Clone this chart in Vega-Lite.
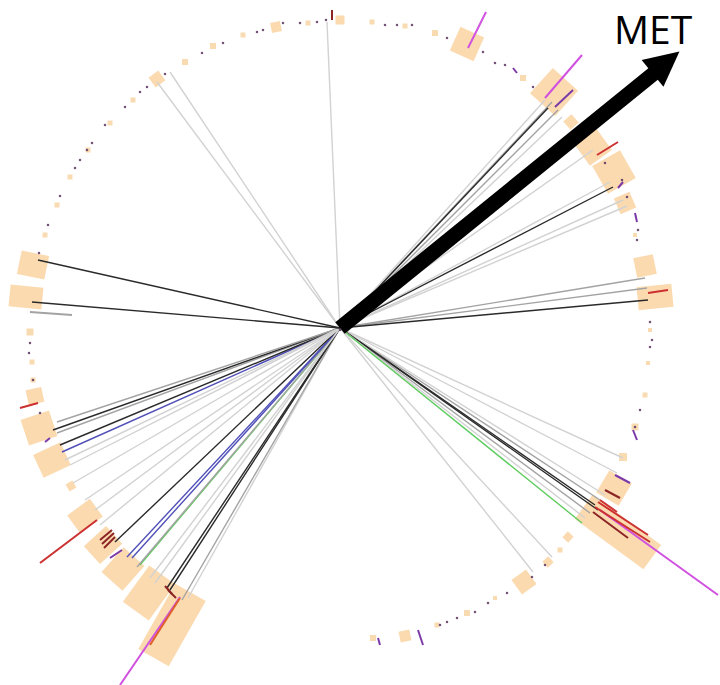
{
  "$schema": "https://vega.github.io/schema/vega-lite/v6.json",
  "width": 720,
  "height": 685,
  "autosize": "none",
  "padding": 0,
  "background": "white",
  "config": {"view": {"stroke": null}},
  "datasets": {
    "boxes": [
      {"x": 121.7, "y": 272.1, "x2": 132.3, "y2": 295.9, "w": 26},
      {"x": 202.6, "y": 223.4, "x2": 225.4, "y2": 248.6, "w": 34},
      {"x": 226.9, "y": 202.3, "x2": 235.1, "y2": 209.7, "w": 11},
      {"x": 242.0, "y": 173.1, "x2": 264.0, "y2": 188.9, "w": 27},
      {"x": 260.1, "y": 148.1, "x2": 287.9, "y2": 163.9, "w": 32},
      {"x": 277.2, "y": 121.6, "x2": 292.8, "y2": 128.4, "w": 17},
      {"x": 295.2, "y": 60.0, "x2": 314.8, "y2": 64.0, "w": 20},
      {"x": 297.6, "y": 29.3, "x2": 332.4, "y2": 32.7, "w": 23},
      {"x": 262.8, "y": -153.4, "x2": 285.2, "y2": -166.6, "w": 26},
      {"x": 243.7, "y": -178.8, "x2": 312.3, "y2": -229.2, "w": 30},
      {"x": 225.1, "y": -206.3, "x2": 230.9, "y2": -211.7, "w": 8},
      {"x": 205.3, "y": -231.0, "x2": 210.7, "y2": -237.0, "w": 8},
      {"x": 178.7, "y": -246.7, "x2": 189.3, "y2": -261.3, "w": 18},
      {"x": 63.9, "y": -302.6, "x2": 66.1, "y2": -313.4, "w": 11},
      {"x": -149.5, "y": -264.4, "x2": -186.5, "y2": -329.6, "w": 35},
      {"x": -177.8, "y": -246.8, "x2": -204.2, "y2": -283.2, "w": 32},
      {"x": -206.0, "y": -228.7, "x2": -228.0, "y2": -253.3, "w": 28},
      {"x": -225.9, "y": -206.9, "x2": -248.1, "y2": -227.1, "w": 24},
      {"x": -243.7, "y": -179.7, "x2": -266.3, "y2": -196.3, "w": 22},
      {"x": -265.6, "y": -156.0, "x2": -272.4, "y2": -160.0, "w": 8},
      {"x": -274.4, "y": -125.7, "x2": -301.6, "y2": -138.3, "w": 25},
      {"x": -286.8, "y": -95.3, "x2": -315.2, "y2": -104.7, "w": 27},
      {"x": -297.2, "y": -66.3, "x2": -312.8, "y2": -69.7, "w": 15},
      {"x": -297.6, "y": 29.4, "x2": -330.4, "y2": 32.6, "w": 22},
      {"x": -293.3, "y": 60.2, "x2": -320.7, "y2": 65.8, "w": 24},
      {"x": -179.4, "y": 244.2, "x2": -186.6, "y2": 253.8, "w": 12},
      {"x": -63.0, "y": 296.1, "x2": -65.0, "y2": 305.9, "w": 10},
      {"x": 0.0, "y": 303.5, "x2": 0.0, "y2": 312.5, "w": 9}
    ],
    "odots": [
      {"x": -127, "y": 282, "s": 6}, {"x": -155, "y": 266, "s": 6}, {"x": -97, "y": 293, "s": 5},
      {"x": -32, "y": 305, "s": 5}, {"x": 32, "y": 306, "s": 5}, {"x": 65, "y": 302, "s": 5},
      {"x": 95, "y": 295, "s": 6}, {"x": 183, "y": 250, "s": 6}, {"x": -207, "y": 228, "s": 5},
      {"x": -230, "y": 205, "s": 5}, {"x": -252, "y": 178, "s": 5}, {"x": -270, "y": 151, "s": 5},
      {"x": -283, "y": 123, "s": 5}, {"x": -295, "y": 93, "s": 5}, {"x": 310, "y": -2, "s": 4},
      {"x": 308, "y": -35, "s": 4}, {"x": 305, "y": -67, "s": 5}, {"x": 295, "y": -99, "s": 7},
      {"x": 283, "y": -129, "s": 8}, {"x": 295, "y": 93, "s": 4}, {"x": -310, "y": -4, "s": 7},
      {"x": -308, "y": -34, "s": 5}, {"x": 33, "y": -310, "s": 6}, {"x": 97, "y": -297, "s": 5},
      {"x": 127, "y": -285, "s": 6}, {"x": 155, "y": -270, "s": 4}, {"x": 220, "y": -222, "s": 5},
      {"x": -307, "y": -52, "s": 5}
    ],
    "spokes": [
      {"sx": 0, "sy": 0, "x": -13, "y": 306, "c": "light"}, {"sx": 0, "sy": 0, "x": -183, "y": 246, "c": "light"}, {"sx": 0, "sy": 0, "x": -170, "y": 256, "c": "light"},
      {"sx": 0, "sy": 0, "x": 212, "y": 226, "c": "gray"}, {"sx": 0, "sy": 0, "x": 208, "y": 220, "c": "black"}, {"sx": 0, "sy": 0, "x": 218, "y": 218, "c": "gray"},
      {"sx": 0, "sy": 0, "x": 222, "y": 211, "c": "light"}, {"sx": 0, "sy": 0, "x": 205, "y": 228, "c": "light"}, {"sx": 0, "sy": 0, "x": 253, "y": 178, "c": "light"},
      {"sx": 0, "sy": 0, "x": 270, "y": 146, "c": "light"}, {"sx": 0, "sy": 0, "x": 273, "y": 141, "c": "black"}, {"sx": 0, "sy": 0, "x": 283, "y": 128, "c": "light"},
      {"sx": 0, "sy": 0, "x": 287, "y": 122, "c": "light"},
      {"sx": 0, "sy": 0, "x": 305, "y": 50, "c": "gray"}, {"sx": 0, "sy": 0, "x": 307, "y": 40, "c": "gray"}, {"sx": 0, "sy": 0, "x": 308, "y": 28, "c": "black"},
      {"sx": 0, "sy": 0, "x": 283, "y": -130, "c": "light"}, {"sx": 0, "sy": 0, "x": 277, "y": -145, "c": "light"}, {"sx": 0, "sy": 0, "x": 260, "y": -172, "c": "gray"},
      {"sx": 0, "sy": 0, "x": 265, "y": -167, "c": "light"}, {"sx": 0, "sy": 0, "x": 255, "y": -177, "c": "black"}, {"sx": 0, "sy": 0, "x": 250, "y": -185, "c": "gray"},
      {"sx": 0, "sy": 0, "x": 258, "y": -182, "c": "black"}, {"sx": 0, "sy": 0, "x": 245, "y": -190, "c": "light"}, {"sx": 0, "sy": 0, "x": 242, "y": -195, "c": "green"},
      {"sx": 0, "sy": 0, "x": 212, "y": -229, "c": "light"}, {"sx": 0, "sy": 0, "x": 193, "y": -244, "c": "light"},
      {"sx": 0, "sy": 0, "x": -152, "y": -270, "c": "light"}, {"sx": 0, "sy": 0, "x": -158, "y": -272, "c": "gray"}, {"sx": 0, "sy": 0, "x": -170, "y": -262, "c": "black"},
      {"sx": 0, "sy": 0, "x": -173, "y": -260, "c": "black"}, {"sx": 0, "sy": 0, "x": -190, "y": -250, "c": "light"}, {"sx": 0, "sy": 0, "x": -200, "y": -237, "c": "green"},
      {"sx": 0, "sy": 0, "x": -203, "y": -239, "c": "gray"}, {"sx": 0, "sy": 0, "x": -208, "y": -230, "c": "blue"}, {"sx": 0, "sy": 0, "x": -213, "y": -229, "c": "blue"},
      {"sx": 0, "sy": 0, "x": -225, "y": -214, "c": "black"}, {"sx": 0, "sy": 0, "x": -240, "y": -197, "c": "light"}, {"sx": 0, "sy": 0, "x": -267, "y": -155, "c": "light"},
      {"sx": 0, "sy": 0, "x": -270, "y": -137, "c": "light"}, {"sx": 0, "sy": 0, "x": -278, "y": -124, "c": "blue"}, {"sx": 0, "sy": 0, "x": -280, "y": -117, "c": "black"},
      {"sx": 0, "sy": 0, "x": -283, "y": -105, "c": "gray"}, {"sx": 0, "sy": 0, "x": -287, "y": -102, "c": "black"}, {"sx": 0, "sy": 0, "x": -283, "y": -94, "c": "gray"},
      {"sx": 0, "sy": 0, "x": -275, "y": -132, "c": "light"}, {"sx": 0, "sy": 0, "x": -255, "y": -172, "c": "light"}, {"sx": 0, "sy": 0, "x": -245, "y": -182, "c": "light"},
      {"sx": 0, "sy": 0, "x": -185, "y": -255, "c": "light"},
      {"sx": 0, "sy": 0, "x": -302, "y": 68, "c": "black"}, {"sx": 0, "sy": 0, "x": -308, "y": 26, "c": "black"}
    ],
    "ticks": [
      {"x": 128, "y": 280, "x2": 146, "y2": 316, "c": "magenta"},
      {"x": 205, "y": 230, "x2": 242, "y2": 273, "c": "magenta"},
      {"x": 215, "y": 221, "x2": 233, "y2": 238, "c": "purple"},
      {"x": 257, "y": 173, "x2": 278, "y2": 186, "c": "red"},
      {"x": 308, "y": 35, "x2": 328, "y2": 38, "c": "red"},
      {"x": 260, "y": -182, "x2": 378, "y2": -267, "c": "magenta"},
      {"x": 258, "y": -174, "x2": 308, "y2": -207, "c": "red"},
      {"x": 255, "y": -179, "x2": 310, "y2": -214, "c": "red"},
      {"x": 253, "y": -184, "x2": 288, "y2": -210, "c": "darkred"},
      {"x": 260, "y": -172, "x2": 277, "y2": -184, "c": "red"},
      {"x": 275, "y": -147, "x2": 290, "y2": -155, "c": "purple"},
      {"x": 265, "y": -162, "x2": 280, "y2": -170, "c": "darkred"},
      {"x": -300, "y": -235, "x2": -243, "y2": -192, "c": "red"},
      {"x": -220, "y": -357, "x2": -160, "y2": -269, "c": "magenta"},
      {"x": -190, "y": -317, "x2": -160, "y2": -270, "c": "orangered"},
      {"x": -230, "y": -230, "x2": -218, "y2": -222, "c": "purple"},
      {"x": -320, "y": -80, "x2": -302, "y2": -75, "c": "red"},
      {"x": -8, "y": 318, "x2": -8, "y2": 308, "c": "darkred"},
      {"x": 78, "y": -302, "x2": 83, "y2": -317, "c": "purple"},
      {"x": 293, "y": -102, "x2": 297, "y2": -112, "c": "purple"},
      {"x": 295, "y": 115, "x2": 297, "y2": 106, "c": "purple"},
      {"x": 278, "y": 140, "x2": 283, "y2": 146, "c": "purple"},
      {"x": 173, "y": 260, "x2": 177, "y2": 255, "c": "purple"},
      {"x": -240, "y": -212, "x2": -228, "y2": -202, "c": "darkred"},
      {"x": -238, "y": -216, "x2": -226, "y2": -205, "c": "darkred"},
      {"x": -236, "y": -220, "x2": -225, "y2": -209, "c": "darkred"},
      {"x": -172, "y": -262, "x2": -164, "y2": -270, "c": "darkred"},
      {"x": -175, "y": -258, "x2": -168, "y2": -266, "c": "darkred"},
      {"x": 38, "y": -310, "x2": 40, "y2": -317, "c": "purple"},
      {"x": -295, "y": -114, "x2": -290, "y2": -110, "c": "purple"},
      {"x": -310, "y": 16, "x2": -268, "y2": 13, "c": "gray"}
    ],
    "ddots": [
      {"x": -83, "y": 296}, {"x": -77, "y": 298}, {"x": -57, "y": 305}, {"x": -40, "y": 305},
      {"x": -23, "y": 306}, {"x": -14, "y": 308}, {"x": -117, "y": 285}, {"x": -138, "y": 275},
      {"x": -175, "y": 254}, {"x": -193, "y": 241}, {"x": -200, "y": 236}, {"x": -215, "y": 221},
      {"x": -235, "y": 203}, {"x": -248, "y": 185}, {"x": -253, "y": 178}, {"x": -260, "y": 168},
      {"x": -265, "y": 160}, {"x": -280, "y": 132}, {"x": -292, "y": 103}, {"x": -301, "y": 75},
      {"x": 45, "y": 303}, {"x": 57, "y": 303}, {"x": 72, "y": 303}, {"x": 107, "y": 290},
      {"x": 143, "y": 276}, {"x": 155, "y": 265}, {"x": 165, "y": 263}, {"x": 193, "y": 241},
      {"x": 265, "y": 165}, {"x": 282, "y": 148}, {"x": 287, "y": 131}, {"x": 298, "y": 98},
      {"x": 297, "y": 88}, {"x": 310, "y": 6}, {"x": 312, "y": -12}, {"x": 310, "y": -19},
      {"x": 300, "y": -82}, {"x": 295, "y": -99}, {"x": 205, "y": -237}, {"x": 192, "y": -249},
      {"x": 167, "y": -265}, {"x": 148, "y": -275}, {"x": 135, "y": -284}, {"x": 117, "y": -290},
      {"x": 107, "y": -294}, {"x": 100, "y": -297}, {"x": -310, "y": -15}, {"x": -311, "y": -25},
      {"x": -307, "y": -52}, {"x": -300, "y": -85}, {"x": 0, "y": -2}
    ],
    "arrow": [{"x": 0, "y": 0, "x2": 318, "y2": 258}],
    "head": [{"x": 326, "y": 265.5, "a": 51}],
    "label": [{"x": 313, "y": 284, "t": "MET"}]
  },
  "layer": [
    {
      "data": {"name": "boxes"},
      "mark": {"type": "rule", "strokeCap": "butt", "color": "#fbdab0"},
      "encoding": {
        "x": {"field": "x", "type": "quantitative", "axis": null, "scale": {"domain": [-340, 380], "nice": false, "zero": false}},
        "y": {"field": "y", "type": "quantitative", "axis": null, "scale": {"domain": [-357, 328], "nice": false, "zero": false}},
        "x2": {"field": "x2"},
        "y2": {"field": "y2"},
        "strokeWidth": {"field": "w", "type": "quantitative", "scale": {"type": "linear", "domain": [0, 100], "range": [0, 100]}, "legend": null}
      }
    },
    {
      "data": {"name": "odots"},
      "mark": {"type": "point", "shape": "square", "filled": true, "color": "#f6cf95", "opacity": 0.75},
      "encoding": {
        "x": {"field": "x", "type": "quantitative", "axis": null},
        "y": {"field": "y", "type": "quantitative", "axis": null},
        "size": {"field": "s", "type": "quantitative", "scale": {"type": "pow", "exponent": 2, "domain": [0, 10], "range": [0, 100]}, "legend": null}
      }
    },
    {
      "data": {"name": "spokes"},
      "mark": {"type": "rule", "strokeWidth": 1.4},
      "encoding": {
        "x": {"field": "sx", "type": "quantitative", "axis": null},
        "y": {"field": "sy", "type": "quantitative", "axis": null},
        "x2": {"field": "x"},
        "y2": {"field": "y"},
        "color": {"field": "c", "type": "nominal", "legend": null,
          "scale": {"domain": ["light", "gray", "black", "blue", "green", "red", "magenta", "purple", "darkred", "orangered"],
                    "range": ["#d2d2d2", "#a3a3a3", "#2a2a2a", "#5050b8", "#60cc60", "#cc3030", "#d050e0", "#7b3aa8", "#8b2525", "#e0602a"]}}
      }
    },
    {
      "data": {"name": "ticks"},
      "mark": {"type": "rule", "strokeWidth": 2},
      "encoding": {
        "x": {"field": "x", "type": "quantitative", "axis": null},
        "y": {"field": "y", "type": "quantitative", "axis": null},
        "x2": {"field": "x2"},
        "y2": {"field": "y2"},
        "color": {"field": "c", "type": "nominal", "legend": null}
      }
    },
    {
      "data": {"name": "ddots"},
      "mark": {"type": "point", "shape": "square", "filled": true, "size": 5, "color": "#5a3560", "opacity": 0.85},
      "encoding": {
        "x": {"field": "x", "type": "quantitative", "axis": null},
        "y": {"field": "y", "type": "quantitative", "axis": null}
      }
    },
    {
      "data": {"name": "arrow"},
      "mark": {"type": "rule", "strokeWidth": 15, "strokeCap": "butt", "color": "black"},
      "encoding": {
        "x": {"field": "x", "type": "quantitative", "axis": null},
        "y": {"field": "y", "type": "quantitative", "axis": null},
        "x2": {"field": "x2"},
        "y2": {"field": "y2"}
      }
    },
    {
      "data": {"name": "head"},
      "mark": {"type": "point", "shape": "M0,-1L1,1L-1,1Z", "filled": true, "color": "black", "opacity": 1, "size": 1200},
      "encoding": {
        "x": {"field": "x", "type": "quantitative", "axis": null},
        "y": {"field": "y", "type": "quantitative", "axis": null},
        "angle": {"field": "a", "type": "quantitative", "scale": {"domain": [0, 360], "range": [0, 360]}, "legend": null}
      }
    },
    {
      "data": {"name": "label"},
      "mark": {"type": "text", "font": "Open Sans", "fontSize": 39, "align": "center", "baseline": "alphabetic", "color": "black"},
      "encoding": {
        "x": {"field": "x", "type": "quantitative", "axis": null},
        "y": {"field": "y", "type": "quantitative", "axis": null},
        "text": {"field": "t"}
      }
    }
  ]
}
